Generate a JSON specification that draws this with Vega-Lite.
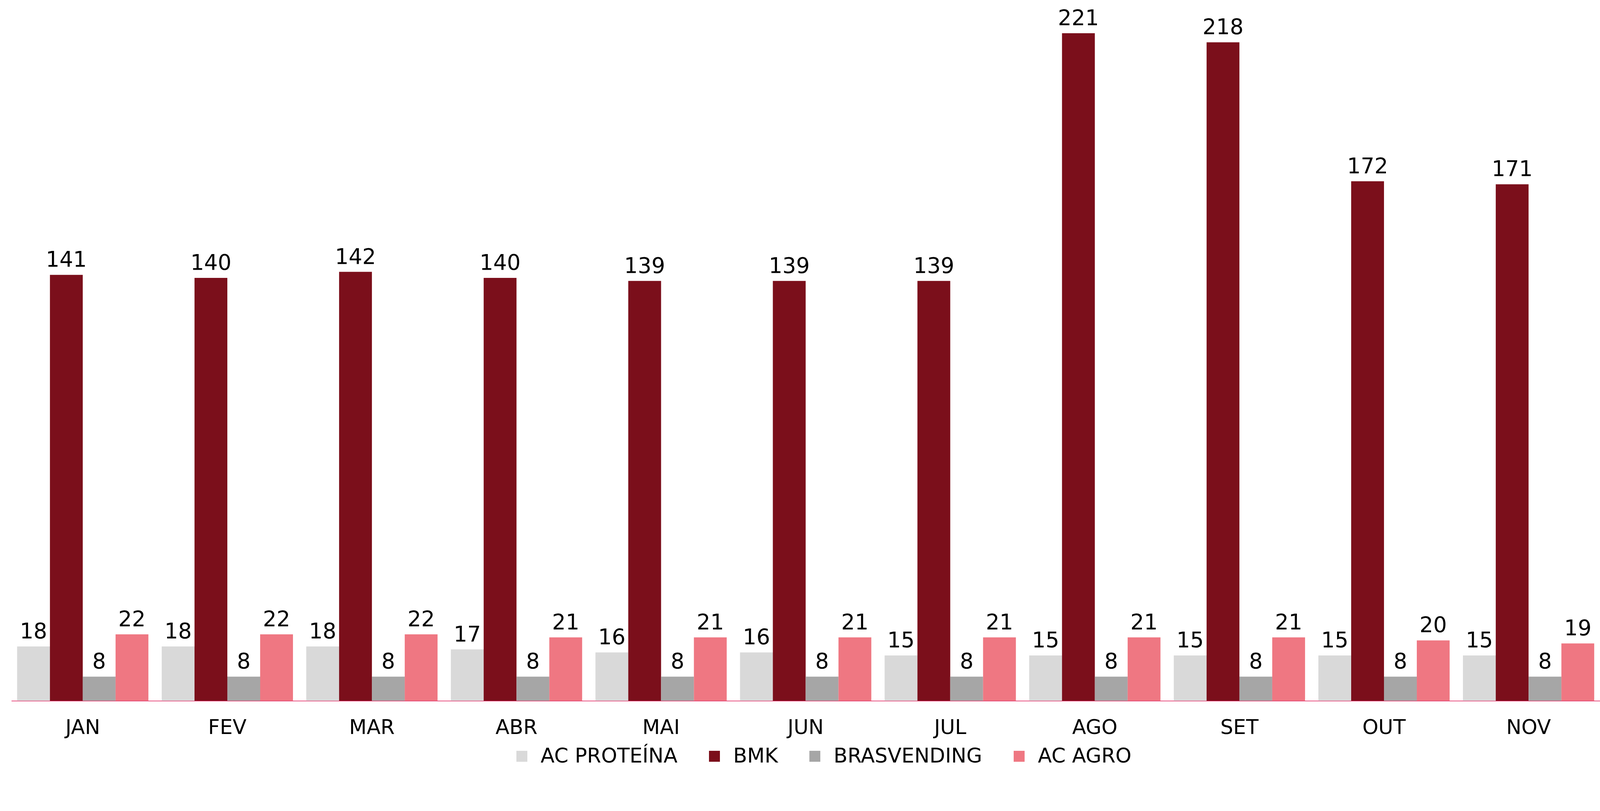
{
  "$schema": "https://vega.github.io/schema/vega-lite/v6.json",
  "width": 4067,
  "height": 1793,
  "padding": {"left": 29, "top": 0, "right": 0, "bottom": 0},
  "background": "white",
  "config": {
    "font": "DejaVu Sans",
    "view": {"stroke": null}
  },
  "data": {
    "values": [
      {"mes": "JAN", "serie": "AC PROTEÍNA", "valor": 18},
      {"mes": "JAN", "serie": "BMK", "valor": 141},
      {"mes": "JAN", "serie": "BRASVENDING", "valor": 8},
      {"mes": "JAN", "serie": "AC AGRO", "valor": 22},
      {"mes": "FEV", "serie": "AC PROTEÍNA", "valor": 18},
      {"mes": "FEV", "serie": "BMK", "valor": 140},
      {"mes": "FEV", "serie": "BRASVENDING", "valor": 8},
      {"mes": "FEV", "serie": "AC AGRO", "valor": 22},
      {"mes": "MAR", "serie": "AC PROTEÍNA", "valor": 18},
      {"mes": "MAR", "serie": "BMK", "valor": 142},
      {"mes": "MAR", "serie": "BRASVENDING", "valor": 8},
      {"mes": "MAR", "serie": "AC AGRO", "valor": 22},
      {"mes": "ABR", "serie": "AC PROTEÍNA", "valor": 17},
      {"mes": "ABR", "serie": "BMK", "valor": 140},
      {"mes": "ABR", "serie": "BRASVENDING", "valor": 8},
      {"mes": "ABR", "serie": "AC AGRO", "valor": 21},
      {"mes": "MAI", "serie": "AC PROTEÍNA", "valor": 16},
      {"mes": "MAI", "serie": "BMK", "valor": 139},
      {"mes": "MAI", "serie": "BRASVENDING", "valor": 8},
      {"mes": "MAI", "serie": "AC AGRO", "valor": 21},
      {"mes": "JUN", "serie": "AC PROTEÍNA", "valor": 16},
      {"mes": "JUN", "serie": "BMK", "valor": 139},
      {"mes": "JUN", "serie": "BRASVENDING", "valor": 8},
      {"mes": "JUN", "serie": "AC AGRO", "valor": 21},
      {"mes": "JUL", "serie": "AC PROTEÍNA", "valor": 15},
      {"mes": "JUL", "serie": "BMK", "valor": 139},
      {"mes": "JUL", "serie": "BRASVENDING", "valor": 8},
      {"mes": "JUL", "serie": "AC AGRO", "valor": 21},
      {"mes": "AGO", "serie": "AC PROTEÍNA", "valor": 15},
      {"mes": "AGO", "serie": "BMK", "valor": 221},
      {"mes": "AGO", "serie": "BRASVENDING", "valor": 8},
      {"mes": "AGO", "serie": "AC AGRO", "valor": 21},
      {"mes": "SET", "serie": "AC PROTEÍNA", "valor": 15},
      {"mes": "SET", "serie": "BMK", "valor": 218},
      {"mes": "SET", "serie": "BRASVENDING", "valor": 8},
      {"mes": "SET", "serie": "AC AGRO", "valor": 21},
      {"mes": "OUT", "serie": "AC PROTEÍNA", "valor": 15},
      {"mes": "OUT", "serie": "BMK", "valor": 172},
      {"mes": "OUT", "serie": "BRASVENDING", "valor": 8},
      {"mes": "OUT", "serie": "AC AGRO", "valor": 20},
      {"mes": "NOV", "serie": "AC PROTEÍNA", "valor": 15},
      {"mes": "NOV", "serie": "BMK", "valor": 171},
      {"mes": "NOV", "serie": "BRASVENDING", "valor": 8},
      {"mes": "NOV", "serie": "AC AGRO", "valor": 19}
    ]
  },
  "encoding": {
    "x": {
      "field": "mes",
      "type": "nominal",
      "sort": ["JAN","FEV","MAR","ABR","MAI","JUN","JUL","AGO","SET","OUT","NOV"],
      "scale": {"paddingInner": 0.092, "paddingOuter": 0.04},
      "axis": {
        "title": null,
        "labelAngle": 0,
        "labelFontSize": 52,
        "labelColor": "#000000",
        "labelPadding": 43,
        "ticks": false,
        "domainColor": "#e0195a",
        "domainWidth": 1.5,
        "grid": false
      }
    },
    "xOffset": {
      "field": "serie",
      "type": "nominal",
      "sort": ["AC PROTEÍNA", "BMK", "BRASVENDING", "AC AGRO"],
      "scale": {"paddingInner": 0, "paddingOuter": 0}
    },
    "y": {
      "field": "valor",
      "type": "quantitative",
      "scale": {"domain": [0, 232], "nice": false, "zero": true},
      "axis": null
    }
  },
  "layer": [
    {
      "mark": {"type": "bar"},
      "encoding": {
        "color": {
          "field": "serie",
          "type": "nominal",
          "scale": {
            "domain": ["AC PROTEÍNA", "BMK", "BRASVENDING", "AC AGRO"],
            "range": ["#d9d9d9", "#7b0f1b", "#a6a6a6", "#ef7782"]
          },
          "legend": {
            "title": null,
            "orient": "none",
            "legendX": 1281,
            "legendY": 1909,
            "direction": "horizontal",
            "symbolType": "square",
            "symbolSize": 784,
            "symbolStrokeWidth": 0,
            "labelFontSize": 52,
            "labelColor": "#000000",
            "labelOffset": 22,
            "columnPadding": 68,
            "labelLimit": 1000
          }
        }
      }
    },
    {
      "mark": {
        "type": "text",
        "baseline": "alphabetic",
        "dy": -21,
        "fontSize": 55,
        "color": "#000000"
      },
      "encoding": {
        "text": {"field": "valor", "type": "quantitative"}
      }
    }
  ]
}
